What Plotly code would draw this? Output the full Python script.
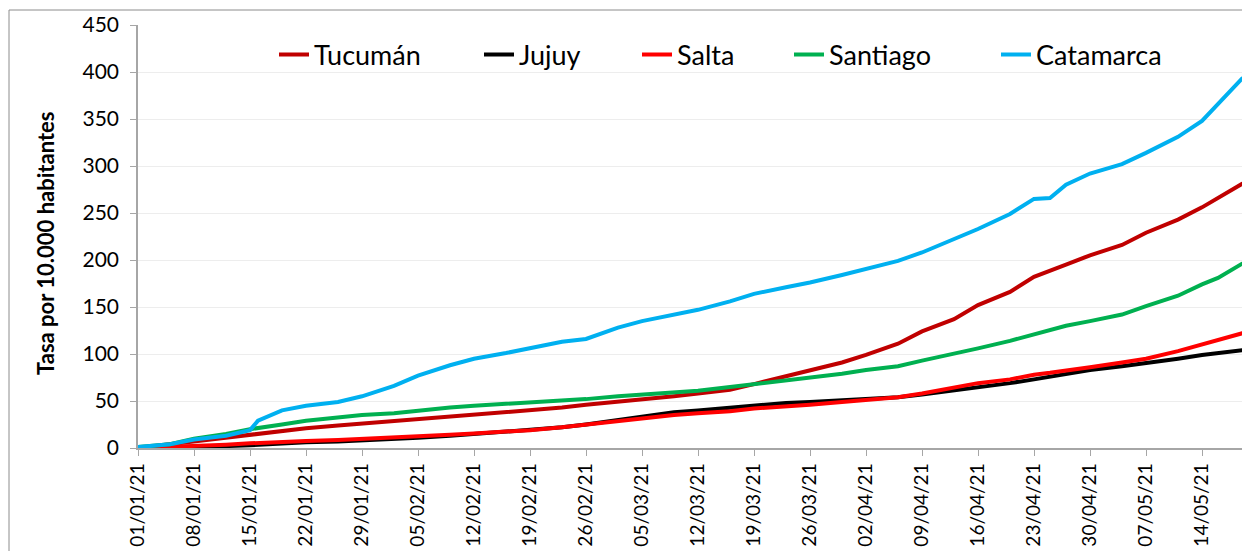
import plotly.graph_objects as go

dates = ["2021-01-01", "2021-01-05", "2021-01-08", "2021-01-12", "2021-01-15", "2021-01-16",
         "2021-01-19", "2021-01-22", "2021-01-26", "2021-01-29", "2021-02-02", "2021-02-05",
         "2021-02-09", "2021-02-12", "2021-02-16", "2021-02-19", "2021-02-23", "2021-02-26",
         "2021-03-02", "2021-03-05", "2021-03-09", "2021-03-12", "2021-03-16", "2021-03-19",
         "2021-03-23", "2021-03-26", "2021-03-30", "2021-04-02", "2021-04-06", "2021-04-09",
         "2021-04-13", "2021-04-16", "2021-04-20", "2021-04-23", "2021-04-25", "2021-04-27",
         "2021-04-30", "2021-05-04", "2021-05-07", "2021-05-11", "2021-05-14", "2021-05-16",
         "2021-05-19", "2021-05-20"]

tucuman = [0, 4, 8, 12, 15, 16, 19, 21, 24, 26, 29, 31, 34, 36, 38, 40, 43, 46, 49, 52, 55, 58,
           62, 68, 76, 82, 91, 99, 111, 124, 137, 152, 166, 182, 188, 195, 205, 216, 229, 243,
           256, 266, 281, 284]
jujuy = [0, 0.5, 1, 2, 3, 3.5, 5, 6, 7, 8, 10, 11, 13, 15, 17, 19, 22, 25, 30, 34, 38, 40, 43,
         46, 48, 49, 51, 53, 54, 57, 61, 64, 69, 73, 76, 79, 83, 87, 90, 95, 99, 101, 104, 105]
salta = [0, 1, 2, 3.5, 5, 5.5, 6.5, 7.5, 8.5, 9.5, 11, 12, 14, 15.5, 17, 19, 22, 25, 29, 32, 35,
         37, 39, 42, 44, 46, 49, 51, 54, 58, 64, 69, 73, 78, 80, 82, 86, 91, 95, 103, 110, 115,
         122, 122]
santiago = [1, 4, 10, 15, 20, 21, 25, 29, 33, 35, 37, 40, 43, 45, 47, 48, 50, 52, 55, 57, 59, 61,
            65, 68, 71, 74, 79, 83, 87, 93, 100, 106, 114, 121, 126, 130, 135, 142, 151, 162, 174,
            181, 196, 199]
catamarca = [1, 4, 9, 13, 19, 29, 40, 45, 49, 55, 66, 77, 88, 95, 101, 106, 113, 116, 128, 135,
             142, 147, 156, 164, 171, 176, 184, 190, 199, 208, 222, 233, 249, 265, 266, 280, 292,
             302, 314, 331, 348, 366, 393, 394]

series_names = ["Tucumán", "Jujuy", "Salta", "Santiago", "Catamarca"]
series_values = [tucuman, jujuy, salta, santiago, catamarca]
colors = ["#C00000", "#000000", "#FF0000", "#00B050", "#00B0F0"]
legend_ids = ["legend", "legend2", "legend3", "legend4", "legend5"]
# page pixel where each legend text starts
legend_text_px = [315, 520, 678, 830, 1037]

FONT = "Lato, 'Open Sans', sans-serif"
OFF = 8  # page body margin
W, H = 1250 - OFF, 551 - OFF
L, R = 138 - OFF, 0
T = 25 - OFF
B = H - (448 - OFF)
pw = W - L - R
ph = H - T - B


def px_x(page_x):
    return (page_x - OFF - L) / pw


def px_y(page_y):
    return (H - B - (page_y - OFF)) / ph


fig = go.Figure()
for name, vals, col, lid in zip(series_names, series_values, colors, legend_ids):
    fig.add_trace(go.Scatter(x=dates, y=vals, name=name, mode="lines",
                             line=dict(color=col, width=4), legend=lid))

layout_legends = {}
for lid, tx in zip(legend_ids, legend_text_px):
    layout_legends[lid] = dict(x=px_x(tx - 41), xanchor="left", y=px_y(55),
                               yanchor="middle", orientation="h",
                               font=dict(family=FONT, size=27, color="#000000"),
                               bgcolor="rgba(0,0,0,0)", borderwidth=0)

fig.update_layout(
    width=W, height=H,
    margin=dict(l=L, r=R, t=T, b=B, autoexpand=False),
    paper_bgcolor="white", plot_bgcolor="white",
    font=dict(family=FONT, color="#000000"),
    showlegend=True,
    **layout_legends,
    xaxis=dict(type="date", range=["2021-01-01", "2021-05-20"],
               tick0="2021-01-01", dtick=7 * 86400000, tickformat="%d/%m/%y",
               tickangle=-90, tickfont=dict(size=19, family=FONT),
               ticks="outside", ticklen=6, tickcolor="#A6A6A6",
               showline=True, linecolor="#A6A6A6", linewidth=1.5,
               showgrid=False, zeroline=False, automargin=False),
    yaxis=dict(range=[0, 450], dtick=50, tickfont=dict(size=21, family=FONT),
               ticks="outside", ticklen=6, tickcolor="#A6A6A6",
               showline=True, linecolor="#A6A6A6", linewidth=1.5,
               showgrid=True, gridcolor="#EDEDED", gridwidth=1, zeroline=False,
               ticklabelstandoff=7, automargin=False),
    annotations=[dict(text="<b>Tasa por 10.000 habitantes</b>", textangle=-90,
                      x=px_x(45), y=px_y(244), xref="paper", yref="paper",
                      xanchor="center", yanchor="middle", showarrow=False,
                      font=dict(family=FONT, size=22, color="#000000"))],
    shapes=[dict(type="rect", xref="paper", yref="paper",
                 x0=px_x(9), x1=1.2, y0=-0.5, y1=px_y(10),
                 line=dict(color="#8C8C8C", width=1), fillcolor="rgba(0,0,0,0)",
                 layer="below")],
)

fig.write_html("out.html")
